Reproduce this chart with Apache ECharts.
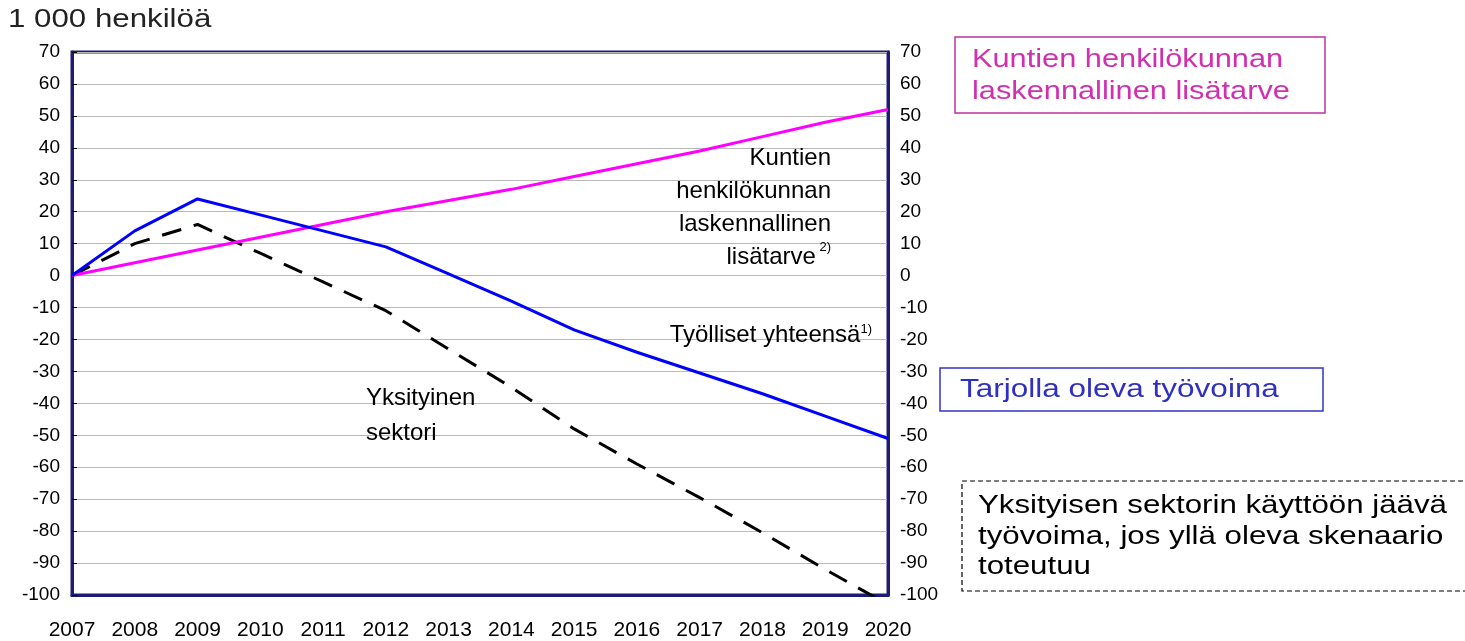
<!DOCTYPE html>
<html>
<head>
<meta charset="utf-8">
<script src="https://cdn.jsdelivr.net/npm/echarts@6/dist/echarts.min.js"></script>
<style>
  html, body { margin: 0; padding: 0; background: #fff; }
  #chart { width: 1465px; height: 641px; }
</style>
</head>
<body>
<div id="chart"></div>
<script>
// vuodet ja sarjat (1 000 henkilöä)
var years = ['2007', '2008', '2009', '2010', '2011', '2012', '2013', '2014', '2015', '2016', '2017', '2018', '2019', '2020'];
// Työlliset yhteensä
var tyolliset = [0, 14, 24, 19, 14, 9, 0.5, -8, -17, -24, -30.5, -37, -44, -51];
// Kuntien henkilökunnan laskennallinen lisätarve
var kuntienLisatarve = [0, 4, 8, 12, 16, 20, 23.5, 27, 31, 35, 39, 43.5, 48, 52];
// Yksityinen sektori
var yksityinen = [0, 10, 16, 7, -2, -11, -23, -35, -48, -59, -69.5, -80.5, -92, -103];

var sans = '"Liberation Sans", Arial, sans-serif';

var chart = echarts.init(document.getElementById('chart'));

var option = {
  backgroundColor: '#fff',
  animation: false,
  grid: {
    left: 72,
    right: 577,
    top: 52,
    bottom: 44,
    show: true,
    borderColor: '#1c1c78',
    borderWidth: 3
  },
  xAxis: {
    type: 'category',
    data: years,
    boundaryGap: false,
    axisLine: { show: true, onZero: false, lineStyle: { color: '#1c1c78', width: 3 } },
    axisTick: { show: false },
    axisLabel: {
      color: '#000',
      fontFamily: sans,
      fontSize: 21,
      margin: 25,
      interval: 0
    },
    splitLine: { show: false }
  },
  yAxis: [
    {
      type: 'value',
      min: -100,
      max: 70,
      interval: 10,
      position: 'left',
      axisLine: { show: true, lineStyle: { color: '#1c1c78', width: 3 } },
      axisTick: { show: true, inside: true, length: 5, lineStyle: { color: '#000', width: 1 } },
      axisLabel: { color: '#000', fontFamily: sans, fontSize: 19, margin: 12 },
      splitLine: { show: true, lineStyle: { color: '#b8b8b8', width: 1 } }
    },
    {
      type: 'value',
      min: -100,
      max: 70,
      interval: 10,
      position: 'right',
      axisLine: { show: true, lineStyle: { color: '#1c1c78', width: 3 } },
      axisTick: { show: false },
      axisLabel: { color: '#000', fontFamily: sans, fontSize: 19, margin: 12 },
      splitLine: { show: false }
    }
  ],
  series: [
    {
      name: 'Kuntien henkilökunnan laskennallinen lisätarve',
      type: 'line',
      data: kuntienLisatarve,
      symbol: 'none',
      lineStyle: { color: '#ff00ff', width: 3 },
      z: 3
    },
    {
      name: 'Työlliset yhteensä',
      type: 'line',
      data: tyolliset,
      symbol: 'none',
      lineStyle: { color: '#0000ff', width: 3 },
      z: 4
    },
    {
      name: 'Yksityinen sektori',
      type: 'line',
      data: yksityinen,
      symbol: 'none',
      clip: true,
      lineStyle: { color: '#000', width: 3, type: [20, 13] },
      z: 2
    }
  ],
  graphic: [
    // otsikko
    {
      type: 'text', x: 8, y: 20, scaleX: 1.25,
      style: { text: '1 000 henkilöä', fill: '#222', font: '25px ' + sans, verticalAlign: 'middle' }
    },
    // kuvan sisäiset tekstit
    {
      type: 'text', x: 831, y: 142,
      style: {
        text: 'Kuntien\nhenkilökunnan\nlaskennallinen\nlisätarve{s| 2)}',
        fill: '#000', font: '24px ' + sans, align: 'right', lineHeight: 33,
        rich: { s: { fontSize: 13, fontFamily: sans, verticalAlign: 'top', padding: [0, 0, 12, 0] } }
      },
      z: 10
    },
    {
      type: 'text', x: 872, y: 323,
      style: {
        text: 'Työlliset yhteensä{s|1)}',
        fill: '#000', font: '24px ' + sans, align: 'right',
        rich: { s: { fontSize: 13, fontFamily: sans, verticalAlign: 'top', padding: [0, 0, 12, 0] } }
      },
      z: 10
    },
    {
      type: 'text', x: 366, y: 381,
      style: { text: 'Yksityinen\nsektori', fill: '#000', font: '24px ' + sans, lineHeight: 35 },
      z: 10
    },
    // selitelaatikot
    {
      type: 'rect', shape: { x: 955, y: 37, width: 370, height: 76 },
      style: { fill: '#fff', stroke: '#c0309f', lineWidth: 1.5 }
    },
    {
      type: 'text', x: 972, y: 44, scaleX: 1.23,
      style: { text: 'Kuntien henkilökunnan\nlaskennallinen lisätarve', fill: '#d030b0', font: '25px ' + sans, lineHeight: 32 }
    },
    {
      type: 'rect', shape: { x: 940, y: 368, width: 383, height: 43 },
      style: { fill: '#fff', stroke: '#3333cc', lineWidth: 1.5 }
    },
    {
      type: 'text', x: 960, y: 390, scaleX: 1.26,
      style: { text: 'Tarjolla oleva työvoima', fill: '#3030c0', font: '25px ' + sans, verticalAlign: 'middle' }
    },
    {
      type: 'rect', shape: { x: 962, y: 481, width: 510, height: 110 },
      style: { fill: '#fff', stroke: '#000', lineWidth: 1.2, lineDash: [5, 3] }
    },
    {
      type: 'text', x: 978, y: 491, scaleX: 1.25,
      style: { text: 'Yksityisen sektorin käyttöön jäävä\ntyövoima, jos yllä oleva skenaario\ntoteutuu', fill: '#000', font: '25px ' + sans, lineHeight: 30.5 }
    }
  ]
};

chart.setOption(option);
</script>
</body>
</html>
